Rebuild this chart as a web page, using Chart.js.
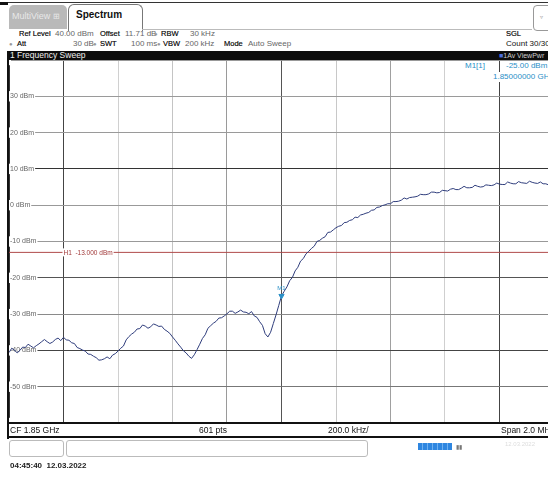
<!DOCTYPE html>
<html>
<head>
<meta charset="utf-8">
<script src="https://cdn.jsdelivr.net/npm/chart.js@4.4.1/dist/chart.umd.min.js"></script>
<style>
  html, body { margin: 0; padding: 0; width: 548px; height: 477px; overflow: hidden; background: #fff; }
  body { position: relative; font-family: "Liberation Sans", Arial, sans-serif; color: #222; }
  .abs { position: absolute; white-space: nowrap; }
  .info { font-size: 8px; color: #666; line-height: 10px; }
  .lbl { color: #000; font-size: 7.5px; -webkit-text-stroke: 0.15px #000; }
  .dot { font-size: 6px; color: #999; }
  #wrap { position: absolute; left: 9px; top: 60px; width: 545px; height: 363px; }
</style>
</head>
<body>
<!-- marco superior y pestañas -->
<div class="abs" style="left:0;top:2px;width:548px;height:1px;background:#333"></div>
<div class="abs" style="left:0;top:2px;width:8px;height:3px;background:#111"></div>
<div class="abs" style="left:9px;top:5px;width:58px;height:24px;background:#b9b9b9;border-radius:5px 5px 0 0"></div>
<div class="abs" style="left:12px;top:11px;font-size:9px;color:#e8e8e8">MultiView <span style="font-size:8px">&#8862;</span></div>
<div class="abs" style="left:68px;top:4px;width:73px;height:26px;background:#fff;border:1px solid #777;border-bottom:none;border-radius:6px 6px 0 0"></div>
<div class="abs" style="left:76px;top:9px;font-size:10px;font-weight:bold;color:#111">Spectrum</div>
<div class="abs" style="left:142px;top:29px;width:390px;height:1px;background:#bbb"></div>
<div class="abs" style="left:533px;top:5px;width:20px;height:24px;border:1px solid #999;border-radius:4px"></div>
<div class="abs" style="left:540px;top:13px;font-size:6px;color:#999">&#9663;</div>

<!-- lineas de ajustes -->
<div class="abs info lbl" style="left:19px;top:29px">Ref Level</div>
<div class="abs info" style="left:55px;top:29px">40.00 dBm</div>
<div class="abs info lbl" style="left:100px;top:29px">Offset</div>
<div class="abs info" style="left:125px;top:29px">11.71 dB</div>
<div class="abs dot" style="left:154px;top:31px">&#9679;</div>
<div class="abs info lbl" style="left:161px;top:29px">RBW</div>
<div class="abs info" style="left:190px;top:29px">30 kHz</div>

<div class="abs dot" style="left:9px;top:41px">&#9679;</div>
<div class="abs info lbl" style="left:17px;top:39px">Att</div>
<div class="abs info" style="left:73px;top:39px">30 dB</div>
<div class="abs dot" style="left:93px;top:41px">&#9679;</div>
<div class="abs info lbl" style="left:100px;top:39px">SWT</div>
<div class="abs info" style="left:131px;top:39px">100 ms</div>
<div class="abs dot" style="left:157px;top:41px">&#9679;</div>
<div class="abs info lbl" style="left:163px;top:39px">VBW</div>
<div class="abs info" style="left:185px;top:39px">200 kHz</div>
<div class="abs info lbl" style="left:224px;top:39px">Mode</div>
<div class="abs info" style="left:248px;top:39px">Auto Sweep</div>

<div class="abs info lbl" style="left:506px;top:29px">SGL</div>
<div class="abs info" style="left:506px;top:39px;color:#111">Count 30/30</div>

<!-- barra negra -->
<div class="abs" style="left:8px;top:51px;width:548px;height:9px;background:#0c0c0c"></div>
<div class="abs" style="left:10px;top:51px;font-size:8.5px;line-height:9px;color:#eee">1 Frequency Sweep</div>
<div class="abs" style="left:499px;top:51px;font-size:7px;line-height:9px;color:#ccc"><span style="color:#4a6ee0">&#9632;</span>1Av ViewPwr</div>

<!-- area del grafico -->
<div id="wrap"><canvas id="grafica" width="545" height="363"></canvas></div>
<div class="abs" style="left:7px;top:51px;width:2px;height:388px;background:#111"></div>

<!-- lectura del marcador -->
<div class="abs" style="left:464px;top:61px;font-size:8px;line-height:10px;color:#2a8fc7;background:#fff;padding:0 1px">M1[1]</div>
<div class="abs" style="left:505px;top:61px;font-size:8px;line-height:10px;color:#2a8fc7;background:#fff;padding:0 1px">-25.00 dBm</div>
<div class="abs" style="left:492px;top:72px;font-size:8px;line-height:10px;color:#2a8fc7;background:#fff;padding:0 1px">1.85000000 GHz</div>

<!-- barra inferior -->
<div class="abs" style="left:8px;top:422px;width:548px;height:2px;background:#111"></div>
<div class="abs" style="left:8px;top:436px;width:548px;height:2px;background:#111"></div>
<div class="abs" style="left:10px;top:425px;font-size:8.5px;color:#111">CF 1.85 GHz</div>
<div class="abs" style="left:199px;top:425px;font-size:8.5px;color:#111">601 pts</div>
<div class="abs" style="left:328px;top:425px;font-size:8.5px;color:#111">200.0 kHz/</div>
<div class="abs" style="left:501px;top:425px;font-size:8.5px;color:#111">Span 2.0 MHz</div>

<!-- barra de estado -->
<div class="abs" style="left:9px;top:440px;width:53px;height:15px;border:1px solid #bbb;border-radius:3px"></div>
<div class="abs" style="left:66px;top:440px;width:300px;height:15px;border:1px solid #bbb;border-radius:3px"></div>
<div class="abs" style="left:418px;top:443px;width:34px;height:7px;background:repeating-linear-gradient(90deg,#2f86e0 0 4px,#6fb0f0 4px 5px)"></div>
<div class="abs" style="left:456px;top:443px;font-size:6px;color:#777">&#9646;&#9646;</div>
<div class="abs" style="left:505px;top:441px;font-size:6px;color:#ddd">12.03.2022</div>
<div class="abs" style="left:10px;top:461px;font-size:8px;font-weight:bold;color:#222">04:45:40 &nbsp;12.03.2022</div>

<script>
// Traza: un valor cada 10 kHz desde 1849.00 MHz (nivel en dBm)
const freqInicio = 1849.00;
const pasoPuntos = 0.01;
const niveles = [
  -40.6, -39.4, -39.9, -40.7, -40.0, -39.1, -39.2, -38.3, -38.8, -39.3,
  -38.7, -38.2, -37.6, -37.0, -37.6, -38.1, -37.7, -37.0, -36.6, -37.3,
  -36.4, -37.1, -37.2, -37.9, -38.1, -39.2, -39.5, -39.9, -40.2, -41.0,
  -41.1, -41.6, -42.0, -42.7, -42.6, -42.3, -41.8, -42.3, -41.3, -40.9,
  -40.2, -39.4, -38.8, -37.1, -36.2, -35.5, -35.0, -34.1, -34.0, -33.0,
  -33.3, -33.9, -33.5, -32.7, -33.0, -33.4, -33.3, -34.2, -34.7, -35.3,
  -36.3, -37.2, -38.2, -39.1, -40.1, -40.7, -41.6, -42.2, -41.2, -39.8,
  -38.3, -36.7, -35.7, -33.9, -33.2, -32.5, -32.0, -31.1, -31.0, -30.5,
  -29.9, -29.2, -29.2, -29.8, -29.4, -28.9, -29.4, -29.5, -29.9, -29.3,
  -30.5, -30.9, -32.1, -33.1, -35.4, -36.3, -35.0, -32.6, -30.2, -27.6,
  -25.0, -23.7, -22.5, -20.8, -19.9, -18.1, -17.1, -15.4, -14.7, -13.4,
  -12.7, -11.9, -11.3, -10.0, -9.7, -9.1, -8.7, -7.5, -7.4, -6.8,
  -6.2, -5.8, -5.6, -4.8, -4.7, -4.2, -4.0, -3.3, -3.4, -2.7,
  -2.5, -2.2, -2.0, -1.4, -1.3, -0.6, -0.5, -0.1, 0.1, 0.4,
  0.4, 1.0, 1.0, 1.1, 1.4, 2.0, 1.7, 2.1, 2.2, 2.3,
  2.5, 3.0, 2.9, 2.9, 3.1, 3.6, 3.6, 3.4, 3.5, 4.1,
  4.0, 3.9, 4.4, 4.6, 4.3, 4.3, 4.7, 5.2, 4.8, 4.8,
  4.9, 5.5, 5.2, 5.0, 5.1, 5.6, 5.5, 5.4, 5.6, 6.1,
  5.8, 5.7, 5.7, 6.4, 6.1, 5.9, 5.9, 6.5, 6.2, 6.1,
  6.0, 6.6, 6.3, 6.1, 6.0, 6.4, 5.9, 5.9, 5.6, 6.0,
  5.9
];

// Linea de umbral H1 y marcador M1
const umbralH1 = -13;
const marcadorM1 = { frecuencia: 1850.00, nivel: -25.0 };

// Escalas: Ref Level 40 dBm, 10 dB/div; CF 1.85 GHz, 200 kHz/div
const nivelMax = 40, nivelMin = -60, pasoNivel = 10;
const freqMin = 1849, freqMax = 1851, pasoFreq = 0.2;

// Colores de la rejilla (algunas lineas se ven mas oscuras en la captura)
const coloresRejillaX = ['#333', '#444', '#d0d0d0', '#c4c4c4', '#9a9a9a', '#555', '#c8c8c8', '#a0a0a0', '#cfcfcf', '#444', '#888'];
const coloresRejillaY = { 30: '#9a9a9a', 20: '#9a9a9a', 10: '#333', 0: '#999', '-10': '#999', '-20': '#555', '-30': '#8a8a8a', '-40': '#444', '-50': '#777' };

const etiquetasPlugin = {
  id: 'etiquetas',
  afterDatasetsDraw(chart) {
    const { ctx, scales: { x, y } } = chart;
    ctx.save();
    // texto de H1 sobre la linea roja
    ctx.font = '6.5px "Liberation Sans", Arial, sans-serif';
    const texto = 'H1  -13.000 dBm';
    const tx = x.getPixelForValue(1849.2) - 2;
    const ty = y.getPixelForValue(umbralH1);
    const w = ctx.measureText(texto).width;
    ctx.fillStyle = '#fff';
    ctx.fillRect(tx + 1, ty - 4, w + 2, 8);
    ctx.fillStyle = '#a23a3a';
    ctx.textBaseline = 'middle';
    ctx.fillText(texto, tx + 2, ty + 0.5);
    // etiqueta del marcador M1
    ctx.fillStyle = '#2a8fc7';
    ctx.font = '6px "Liberation Sans", Arial, sans-serif';
    ctx.textAlign = 'center';
    ctx.fillText('M1', x.getPixelForValue(marcadorM1.frecuencia), y.getPixelForValue(marcadorM1.nivel) - 8);
    ctx.restore();
  }
};

const $grafica = document.querySelector('#grafica');

new Chart($grafica, {
  type: 'line',
  data: {
    datasets: [
      {
        label: 'Traza 1',
        data: niveles.map((v, i) => ({ x: +(freqInicio + i * pasoPuntos).toFixed(2), y: v })),
        borderColor: '#2f3d7c',
        borderWidth: 1,
        pointRadius: 0,
        tension: 0,
        order: 2
      },
      {
        label: 'H1',
        data: [{ x: freqMin, y: umbralH1 }, { x: freqMax, y: umbralH1 }],
        borderColor: '#b04a4a',
        borderWidth: 1,
        pointRadius: 0,
        order: 3
      },
      {
        label: 'M1',
        data: [{ x: marcadorM1.frecuencia, y: marcadorM1.nivel }],
        showLine: false,
        pointStyle: 'triangle',
        rotation: 180,
        pointRadius: 3,
        backgroundColor: '#2a8fc7',
        borderColor: '#2a8fc7',
        order: 1
      }
    ]
  },
  options: {
    responsive: false,
    animation: false,
    events: [],
    layout: { padding: 0, autoPadding: false },
    plugins: { legend: { display: false }, tooltip: { enabled: false } },
    scales: {
      x: {
        type: 'linear',
        min: freqMin,
        max: freqMax,
        afterFit(scale) { scale.height = 0; scale.paddingLeft = 0; scale.paddingRight = 0; },
        border: { display: false },
        grid: {
          drawTicks: false,
          tickLength: 0,
          color: ctx => coloresRejillaX[ctx.index] || '#999'
        },
        ticks: { display: false, stepSize: pasoFreq }
      },
      y: {
        min: nivelMin,
        max: nivelMax,
        afterFit(scale) { scale.width = 0; scale.paddingTop = 0; scale.paddingBottom = 0; },
        border: { display: false },
        grid: {
          drawTicks: false,
          tickLength: 0,
          color: ctx => coloresRejillaY[ctx.tick.value] || '#999'
        },
        ticks: {
          stepSize: pasoNivel,
          mirror: true,
          padding: 1,
          color: '#666',
          font: { size: 7, family: '"Liberation Sans", Arial, sans-serif' },
          showLabelBackdrop: true,
          backdropColor: '#fff',
          backdropPadding: 1,
          callback: v => (v === nivelMax || v === nivelMin) ? '' : v + ' dBm'
        }
      }
    }
  },
  plugins: [etiquetasPlugin]
});
</script>
</body>
</html>
